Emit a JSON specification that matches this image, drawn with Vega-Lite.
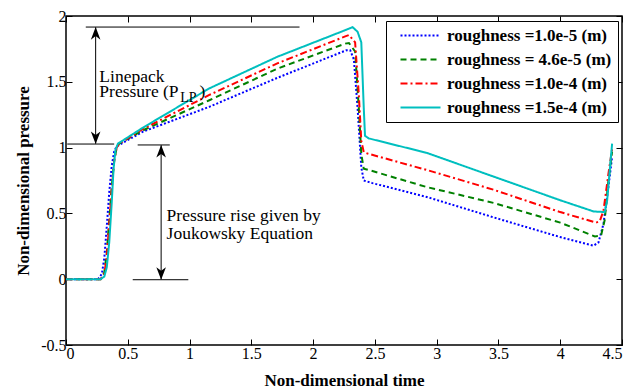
{
  "$schema": "https://vega.github.io/schema/vega-lite/v6.json",
  "width": 556,
  "height": 329,
  "autosize": "none",
  "padding": {"left": 66, "top": 16, "right": 19, "bottom": 47},
  "background": "white",
  "config": {
    "view": {"stroke": "black", "strokeWidth": 1.5},
    "font": "Liberation Serif",
    "axis": {
      "labelFont": "Liberation Serif", "labelFontSize": 16, "labelColor": "black",
      "titleFont": "Liberation Serif", "titleFontSize": 17, "titleFontWeight": "bold", "titleColor": "black",
      "tickColor": "black", "domainColor": "black", "grid": false, "tickSize": -6, "labelPadding": 6, "domain": false
    },
    "legend": {
      "labelFont": "Liberation Serif", "labelFontSize": 17, "labelFontWeight": "bold", "labelColor": "black", "labelLimit": 400
    }
  },
  "datasets": {
    "curves": [
      {"s": "roughness =1.0e-5  (m)", "t": 0, "p": 0},
      {"s": "roughness =1.0e-5  (m)", "t": 0.26, "p": 0},
      {"s": "roughness =1.0e-5  (m)", "t": 0.29, "p": 0.04},
      {"s": "roughness =1.0e-5  (m)", "t": 0.31, "p": 0.16},
      {"s": "roughness =1.0e-5  (m)", "t": 0.33, "p": 0.4},
      {"s": "roughness =1.0e-5  (m)", "t": 0.35, "p": 0.66},
      {"s": "roughness =1.0e-5  (m)", "t": 0.37, "p": 0.86},
      {"s": "roughness =1.0e-5  (m)", "t": 0.39, "p": 0.97},
      {"s": "roughness =1.0e-5  (m)", "t": 0.41, "p": 1.01},
      {"s": "roughness =1.0e-5  (m)", "t": 0.62, "p": 1.12},
      {"s": "roughness =1.0e-5  (m)", "t": 1.16, "p": 1.31},
      {"s": "roughness =1.0e-5  (m)", "t": 1.71, "p": 1.53},
      {"s": "roughness =1.0e-5  (m)", "t": 2.27, "p": 1.74},
      {"s": "roughness =1.0e-5  (m)", "t": 2.30, "p": 1.74},
      {"s": "roughness =1.0e-5  (m)", "t": 2.33, "p": 1.67},
      {"s": "roughness =1.0e-5  (m)", "t": 2.36, "p": 1.3},
      {"s": "roughness =1.0e-5  (m)", "t": 2.39, "p": 0.85},
      {"s": "roughness =1.0e-5  (m)", "t": 2.41, "p": 0.75},
      {"s": "roughness =1.0e-5  (m)", "t": 2.48, "p": 0.73},
      {"s": "roughness =1.0e-5  (m)", "t": 2.92, "p": 0.625},
      {"s": "roughness =1.0e-5  (m)", "t": 3.46, "p": 0.47},
      {"s": "roughness =1.0e-5  (m)", "t": 4.0, "p": 0.32},
      {"s": "roughness =1.0e-5  (m)", "t": 4.27, "p": 0.255},
      {"s": "roughness =1.0e-5  (m)", "t": 4.31, "p": 0.28},
      {"s": "roughness =1.0e-5  (m)", "t": 4.35, "p": 0.42},
      {"s": "roughness =1.0e-5  (m)", "t": 4.39, "p": 0.7},
      {"s": "roughness =1.0e-5  (m)", "t": 4.42, "p": 0.93},

      {"s": "roughness = 4.6e-5 (m)", "t": 0, "p": 0},
      {"s": "roughness = 4.6e-5 (m)", "t": 0.28, "p": 0},
      {"s": "roughness = 4.6e-5 (m)", "t": 0.31, "p": 0.05},
      {"s": "roughness = 4.6e-5 (m)", "t": 0.33, "p": 0.2},
      {"s": "roughness = 4.6e-5 (m)", "t": 0.35, "p": 0.45},
      {"s": "roughness = 4.6e-5 (m)", "t": 0.37, "p": 0.7},
      {"s": "roughness = 4.6e-5 (m)", "t": 0.39, "p": 0.9},
      {"s": "roughness = 4.6e-5 (m)", "t": 0.41, "p": 1.0},
      {"s": "roughness = 4.6e-5 (m)", "t": 0.43, "p": 1.03},
      {"s": "roughness = 4.6e-5 (m)", "t": 0.62, "p": 1.13},
      {"s": "roughness = 4.6e-5 (m)", "t": 1.16, "p": 1.36},
      {"s": "roughness = 4.6e-5 (m)", "t": 1.71, "p": 1.6},
      {"s": "roughness = 4.6e-5 (m)", "t": 2.26, "p": 1.79},
      {"s": "roughness = 4.6e-5 (m)", "t": 2.29, "p": 1.795},
      {"s": "roughness = 4.6e-5 (m)", "t": 2.34, "p": 1.73},
      {"s": "roughness = 4.6e-5 (m)", "t": 2.37, "p": 1.3},
      {"s": "roughness = 4.6e-5 (m)", "t": 2.39, "p": 0.95},
      {"s": "roughness = 4.6e-5 (m)", "t": 2.41, "p": 0.84},
      {"s": "roughness = 4.6e-5 (m)", "t": 2.45, "p": 0.83},
      {"s": "roughness = 4.6e-5 (m)", "t": 2.92, "p": 0.7},
      {"s": "roughness = 4.6e-5 (m)", "t": 3.46, "p": 0.58},
      {"s": "roughness = 4.6e-5 (m)", "t": 4.0, "p": 0.43},
      {"s": "roughness = 4.6e-5 (m)", "t": 4.28, "p": 0.325},
      {"s": "roughness = 4.6e-5 (m)", "t": 4.33, "p": 0.33},
      {"s": "roughness = 4.6e-5 (m)", "t": 4.36, "p": 0.45},
      {"s": "roughness = 4.6e-5 (m)", "t": 4.39, "p": 0.75},
      {"s": "roughness = 4.6e-5 (m)", "t": 4.42, "p": 0.97},

      {"s": "roughness =1.0e-4 (m)", "t": 0, "p": 0},
      {"s": "roughness =1.0e-4 (m)", "t": 0.28, "p": 0},
      {"s": "roughness =1.0e-4 (m)", "t": 0.31, "p": 0.04},
      {"s": "roughness =1.0e-4 (m)", "t": 0.33, "p": 0.17},
      {"s": "roughness =1.0e-4 (m)", "t": 0.35, "p": 0.42},
      {"s": "roughness =1.0e-4 (m)", "t": 0.37, "p": 0.68},
      {"s": "roughness =1.0e-4 (m)", "t": 0.39, "p": 0.9},
      {"s": "roughness =1.0e-4 (m)", "t": 0.41, "p": 1.0},
      {"s": "roughness =1.0e-4 (m)", "t": 0.43, "p": 1.03},
      {"s": "roughness =1.0e-4 (m)", "t": 0.62, "p": 1.14},
      {"s": "roughness =1.0e-4 (m)", "t": 1.16, "p": 1.40},
      {"s": "roughness =1.0e-4 (m)", "t": 1.71, "p": 1.64},
      {"s": "roughness =1.0e-4 (m)", "t": 2.26, "p": 1.845},
      {"s": "roughness =1.0e-4 (m)", "t": 2.29, "p": 1.855},
      {"s": "roughness =1.0e-4 (m)", "t": 2.34, "p": 1.8},
      {"s": "roughness =1.0e-4 (m)", "t": 2.37, "p": 1.4},
      {"s": "roughness =1.0e-4 (m)", "t": 2.39, "p": 1.05},
      {"s": "roughness =1.0e-4 (m)", "t": 2.41, "p": 0.965},
      {"s": "roughness =1.0e-4 (m)", "t": 2.44, "p": 0.955},
      {"s": "roughness =1.0e-4 (m)", "t": 2.92, "p": 0.83},
      {"s": "roughness =1.0e-4 (m)", "t": 3.46, "p": 0.68},
      {"s": "roughness =1.0e-4 (m)", "t": 4.0, "p": 0.51},
      {"s": "roughness =1.0e-4 (m)", "t": 4.29, "p": 0.43},
      {"s": "roughness =1.0e-4 (m)", "t": 4.32, "p": 0.44},
      {"s": "roughness =1.0e-4 (m)", "t": 4.35, "p": 0.52},
      {"s": "roughness =1.0e-4 (m)", "t": 4.39, "p": 0.8},
      {"s": "roughness =1.0e-4 (m)", "t": 4.42, "p": 0.99},

      {"s": "roughness =1.5e-4 (m)", "t": 0, "p": 0},
      {"s": "roughness =1.5e-4 (m)", "t": 0.28, "p": 0},
      {"s": "roughness =1.5e-4 (m)", "t": 0.31, "p": 0.02},
      {"s": "roughness =1.5e-4 (m)", "t": 0.33, "p": 0.09},
      {"s": "roughness =1.5e-4 (m)", "t": 0.35, "p": 0.28},
      {"s": "roughness =1.5e-4 (m)", "t": 0.37, "p": 0.58},
      {"s": "roughness =1.5e-4 (m)", "t": 0.385, "p": 0.84},
      {"s": "roughness =1.5e-4 (m)", "t": 0.40, "p": 0.98},
      {"s": "roughness =1.5e-4 (m)", "t": 0.42, "p": 1.03},
      {"s": "roughness =1.5e-4 (m)", "t": 0.62, "p": 1.15},
      {"s": "roughness =1.5e-4 (m)", "t": 1.16, "p": 1.45},
      {"s": "roughness =1.5e-4 (m)", "t": 1.71, "p": 1.69},
      {"s": "roughness =1.5e-4 (m)", "t": 2.24, "p": 1.885},
      {"s": "roughness =1.5e-4 (m)", "t": 2.32, "p": 1.915},
      {"s": "roughness =1.5e-4 (m)", "t": 2.36, "p": 1.88},
      {"s": "roughness =1.5e-4 (m)", "t": 2.39, "p": 1.8},
      {"s": "roughness =1.5e-4 (m)", "t": 2.41, "p": 1.3},
      {"s": "roughness =1.5e-4 (m)", "t": 2.42, "p": 1.09},
      {"s": "roughness =1.5e-4 (m)", "t": 2.45, "p": 1.07},
      {"s": "roughness =1.5e-4 (m)", "t": 2.92, "p": 0.96},
      {"s": "roughness =1.5e-4 (m)", "t": 3.46, "p": 0.78},
      {"s": "roughness =1.5e-4 (m)", "t": 4.0, "p": 0.60},
      {"s": "roughness =1.5e-4 (m)", "t": 4.27, "p": 0.515},
      {"s": "roughness =1.5e-4 (m)", "t": 4.36, "p": 0.51},
      {"s": "roughness =1.5e-4 (m)", "t": 4.38, "p": 0.6},
      {"s": "roughness =1.5e-4 (m)", "t": 4.40, "p": 0.82},
      {"s": "roughness =1.5e-4 (m)", "t": 4.42, "p": 1.03}
    ],
    "rules": [
      {"x": 0.16, "x2": 1.89, "y": 1.916, "y2": 1.916},
      {"x": 0.01, "x2": 0.39, "y": 1.027, "y2": 1.027},
      {"x": 0.58, "x2": 0.84, "y": 1.02, "y2": 1.02},
      {"x": 0.54, "x2": 0.99, "y": -0.004, "y2": -0.004},
      {"x": 0.24, "x2": 0.24, "y": 1.03, "y2": 1.914},
      {"x": 0.77, "x2": 0.77, "y": 0.0, "y2": 1.018}
    ],
    "heads": [
      {"x": 0.24, "y": 1.916, "dir": "up"},
      {"x": 0.24, "y": 1.027, "dir": "down"},
      {"x": 0.77, "y": 1.02, "dir": "up"},
      {"x": 0.77, "y": -0.004, "dir": "down"}
    ],
    "labels": [
      {"x": 0.27, "y": 1.50, "txt": "Linepack"},
      {"x": 0.27, "y": 1.387, "txt": "Pressure (P"},
      {"x": 1.08, "y": 1.387, "txt": ")"},
      {"x": 0.814, "y": 0.445, "txt": "Pressure rise given by"},
      {"x": 0.814, "y": 0.303, "txt": "Joukowsky Equation"}
    ],
    "subs": [
      {"x": 0.925, "y": 1.35, "txt": "LP"}
    ]
  },
  "layer": [
    {
      "data": {"name": "curves"},
      "mark": {"type": "line", "strokeWidth": 2, "interpolate": "linear"},
      "encoding": {
        "x": {"field": "t", "type": "quantitative", "scale": {"domain": [0, 4.5], "nice": false},
          "axis": {"orient": "bottom", "values": [0, 0.5, 1, 1.5, 2, 2.5, 3, 3.5, 4, 4.5], "labelExpr": "toString(datum.value)", "title": "Non-dimensional time", "titlePadding": 11}},
        "y": {"field": "p", "type": "quantitative", "scale": {"domain": [-0.5, 2], "nice": false},
          "axis": {"orient": "left", "values": [-0.5, 0, 0.5, 1, 1.5, 2], "labelExpr": "toString(datum.value)", "title": "Non-dimensional pressure", "titlePadding": 8}},
        "color": {"field": "s", "type": "nominal", "sort": null,
          "scale": {"domain": ["roughness =1.0e-5  (m)", "roughness = 4.6e-5 (m)", "roughness =1.0e-4 (m)", "roughness =1.5e-4 (m)"],
                    "range": ["#0000FF", "#008000", "#FF0000", "#00BFBF"]},
          "legend": {"title": null, "orient": "none", "legendX": 320, "legendY": 5, "strokeColor": "black", "fillColor": "white",
                     "padding": 6, "symbolType": "M-4,0H4", "symbolSize": 100, "symbolStrokeWidth": 2, "symbolOffset": 20, "labelOffset": 18, "rowPadding": 6, "labelLimit": 400}},
        "strokeDash": {"field": "s", "type": "nominal", "sort": null,
          "scale": {"domain": ["roughness =1.0e-5  (m)", "roughness = 4.6e-5 (m)", "roughness =1.0e-4 (m)", "roughness =1.5e-4 (m)"],
                    "range": [[2, 2], [6, 4], [7, 3, 2, 3], [1, 0]]},
          "legend": {"title": null, "orient": "none", "legendX": 320, "legendY": 5, "strokeColor": "black", "fillColor": "white",
                     "padding": 6, "symbolType": "M-4,0H4", "symbolSize": 100, "symbolStrokeWidth": 2, "symbolOffset": 20, "labelOffset": 18, "rowPadding": 6, "labelLimit": 400}}
      }
    },
    {
      "data": {"name": "rules"},
      "mark": {"type": "rule", "color": "black", "strokeWidth": 1},
      "encoding": {
        "x": {"field": "x", "type": "quantitative", "axis": {"orient": "top", "values": [0, 0.5, 1, 1.5, 2, 2.5, 3, 3.5, 4, 4.5], "labels": false, "title": null}},
        "x2": {"field": "x2"},
        "y": {"field": "y", "type": "quantitative", "axis": {"orient": "right", "values": [-0.5, 0, 0.5, 1, 1.5, 2], "labels": false, "title": null}},
        "y2": {"field": "y2"}
      }
    },
    {
      "data": {"name": "heads"},
      "mark": {"type": "point", "filled": true, "color": "black", "opacity": 1, "strokeWidth": 0, "size": 144},
      "encoding": {
        "x": {"field": "x", "type": "quantitative", "axis": null},
        "y": {"field": "y", "type": "quantitative", "axis": null},
        "shape": {"field": "dir", "type": "nominal", "legend": null,
          "scale": {"domain": ["up", "down"], "range": ["M0,0L0.8,2.1L0,1.5L-0.8,2.1Z", "M0,0L0.8,-2.1L0,-1.5L-0.8,-2.1Z"]}}
      }
    },
    {
      "data": {"name": "labels"},
      "mark": {"type": "text", "align": "left", "baseline": "alphabetic", "font": "Liberation Serif", "fontSize": 17.5, "color": "black"},
      "encoding": {
        "x": {"field": "x", "type": "quantitative", "axis": null},
        "y": {"field": "y", "type": "quantitative", "axis": null},
        "text": {"field": "txt"}
      }
    },
    {
      "data": {"name": "subs"},
      "mark": {"type": "text", "align": "left", "baseline": "alphabetic", "font": "Liberation Serif", "fontSize": 14, "color": "black"},
      "encoding": {
        "x": {"field": "x", "type": "quantitative", "axis": null},
        "y": {"field": "y", "type": "quantitative", "axis": null},
        "text": {"field": "txt"}
      }
    }
  ],
  "resolve": {"axis": {"x": "independent", "y": "independent"}, "legend": {"shape": "independent"}}
}
